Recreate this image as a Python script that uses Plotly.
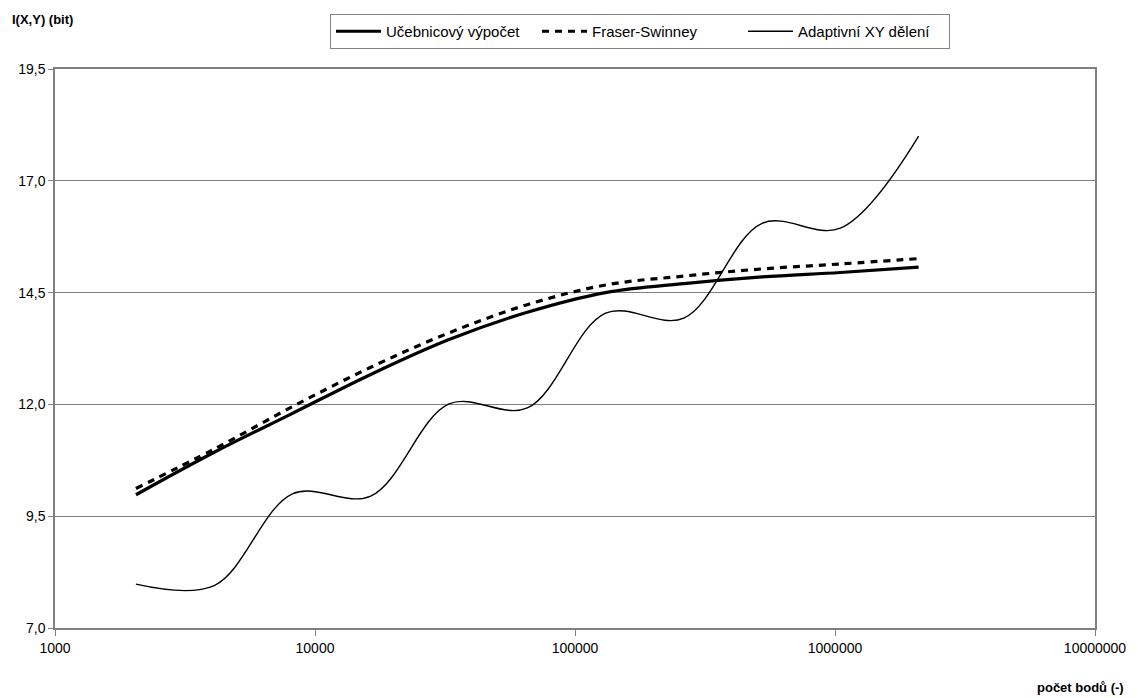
import plotly.graph_objects as go

# ---- data ----
n_bodu = [2048, 4096, 8192, 16384, 32768, 65536, 131072, 262144, 524288, 1048576, 2097152]
ucebnicovy = [9.98, 10.93, 11.80, 12.67, 13.45, 14.06, 14.50, 14.70, 14.85, 14.95, 15.07]
fraser_swinney = [10.12, 11.00, 11.95, 12.83, 13.60, 14.23, 14.67, 14.87, 15.03, 15.14, 15.26]
adaptivni = [7.98, 7.95, 10.00, 9.95, 12.01, 11.92, 14.04, 13.93, 16.05, 15.94, 18.00]

series_names = ["Učebnicový výpočet", "Fraser-Swinney", "Adaptivní XY dělení"]

x_tickvals = [1000, 10000, 100000, 1000000, 10000000]
x_ticktext = ["1000", "10000", "100000", "1000000", "10000000"]
y_tickvals = [7.0, 9.5, 12.0, 14.5, 17.0, 19.5]
y_ticktext = ["7,0", "9,5", "12,0", "14,5", "17,0", "19,5"]

FONT = "Liberation Sans, Arial, sans-serif"

# page body has an 8px margin: figure is sized so the plot lands where the reference has it
W, H = 1130, 690
ML, MT = 47, 61
PW, PH = 1040, 559
MR, MB = W - ML - PW, H - MT - PH

fig = go.Figure()
fig.add_trace(go.Scatter(
    x=n_bodu, y=ucebnicovy, name=series_names[0], mode="lines",
    line=dict(color="black", width=3.2, shape="spline", smoothing=1.0),
))
fig.add_trace(go.Scatter(
    x=n_bodu, y=fraser_swinney, name=series_names[1], mode="lines",
    line=dict(color="black", width=3.2, dash="7px,6px", shape="spline", smoothing=1.0),
))
fig.add_trace(go.Scatter(
    x=n_bodu, y=adaptivni, name=series_names[2], mode="lines",
    line=dict(color="black", width=1.4, shape="spline", smoothing=1.0),
))

fig.update_layout(
    width=W, height=H,
    margin=dict(l=ML, r=MR, t=MT, b=MB, autoexpand=False),
    paper_bgcolor="white", plot_bgcolor="white",
    font=dict(family=FONT, size=14, color="black"),
    showlegend=True,
    legend=dict(
        orientation="h", x=(640 - 55) / PW, xanchor="center", y=1 + (69 - 14) / PH, yanchor="top",
        bordercolor="#808080", borderwidth=1, bgcolor="white",
        font=dict(family=FONT, size=15, color="black"),
        entrywidth=146, entrywidthmode="pixels",
        itemwidth=45, tracegroupgap=0,
    ),
    xaxis=dict(
        type="log", range=[3, 7], automargin=False,
        tickvals=x_tickvals, ticktext=x_ticktext,
        showgrid=False, zeroline=False,
        showline=True, linecolor="#808080", linewidth=1.5, mirror=True,
        ticks="outside", ticklen=6, tickcolor="#808080",
        tickfont=dict(family=FONT, size=14, color="black"),
    ),
    yaxis=dict(
        range=[7, 19.5], automargin=False,
        tickvals=y_tickvals, ticktext=y_ticktext,
        showgrid=True, gridcolor="#808080", gridwidth=1,
        zeroline=False,
        showline=True, linecolor="#808080", linewidth=1.5, mirror=True,
        ticks="outside", ticklen=5, tickcolor="#808080",
        tickfont=dict(family=FONT, size=14, color="black"),
    ),
    annotations=[
        dict(text="<b>I(X,Y) (bit)</b>", xref="paper", yref="paper",
             x=-45 / PW, y=1 + (69 - 19) / PH, xanchor="left", yanchor="middle",
             showarrow=False, font=dict(family=FONT, size=13, color="black")),
        dict(text="<b>počet bodů (-)</b>", xref="paper", yref="paper",
             x=1 + 31 / PW, y=-(688 - 628.5) / PH, xanchor="right", yanchor="middle",
             showarrow=False, font=dict(family=FONT, size=13, color="black")),
    ],
)

fig.write_html("out.html")
